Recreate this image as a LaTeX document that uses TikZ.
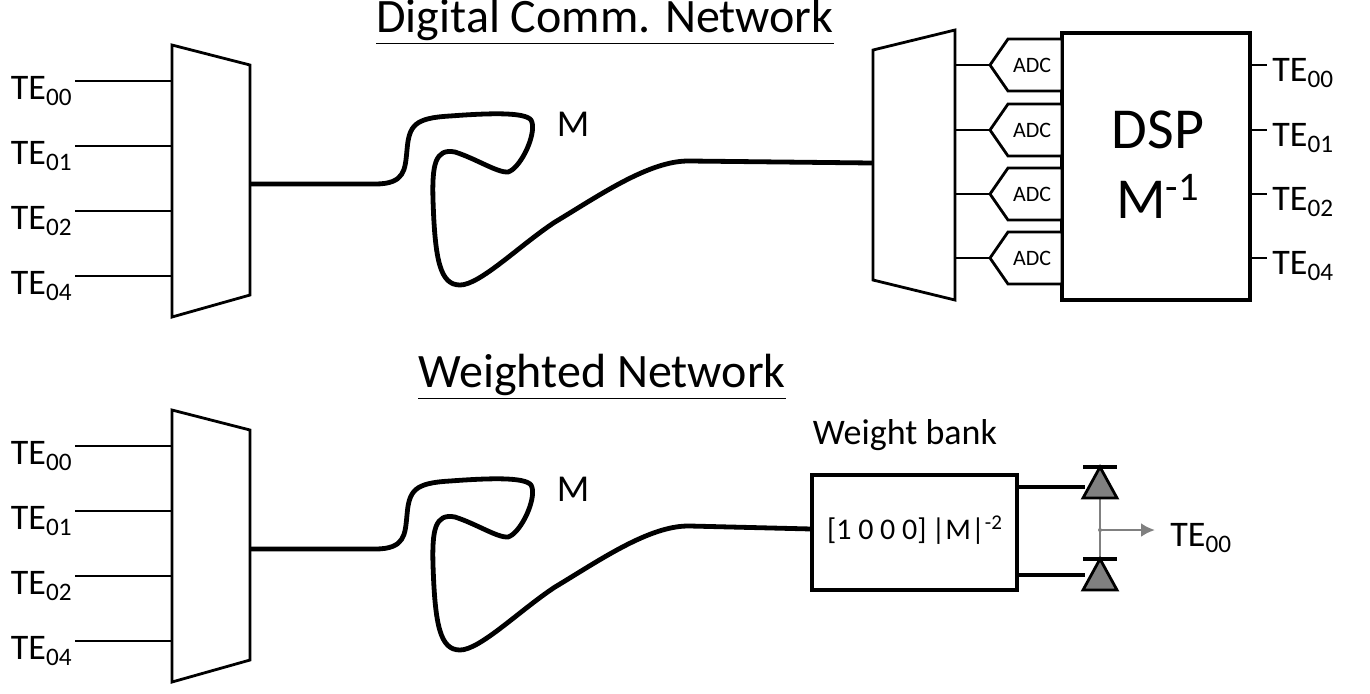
\documentclass[tikz,border=0pt]{standalone}
\usepackage{fontspec}
\setmainfont{Carlito}
\usetikzlibrary{arrows.meta}
\begin{document}
\begin{tikzpicture}[x=0.5pt,y=-0.5pt,
  thin/.style={line width=1.4pt},
  thk/.style={line width=2.4pt},
  lbl/.style={font=\fontsize{18}{20}\selectfont,anchor=east,inner sep=1pt},
  olbl/.style={font=\fontsize{18}{20}\selectfont,anchor=west,inner sep=1pt},
  adc/.style={thin,fill=white},
  title/.style={font=\fontsize{24}{26}\selectfont}]
\useasboundingbox (0,0) rectangle (1370,693);
% titles
\node[title] (t1) at (605,22) {\underline{Digital Comm. Network}};
\node[title] (t2) at (602,377) {\underline{Weighted Network}};
% two muxes + inputs + fibers
\foreach \dy/\s in {0/a,365/b}{
  \begin{scope}[yshift=-\dy*0.5pt]
  \draw[thin] (172,45) -- (250,65) -- (250,295) -- (172,317) -- cycle;
  \foreach \y/\t [count=\i] in {81/00,146/01,211/02,276/04}{
    \coordinate (in\s\i) at (75,\y);
    \coordinate (mx\s\i) at (172,\y);
    \draw[thin] (in\s\i) -- (mx\s\i);
    \node[lbl] (l\s\i) at (75,\y+10) {TE\textsubscript{\t}};
  }
  \coordinate (fs\s) at (250,184);
  \node[font=\fontsize{19}{21}\selectfont] (M\s) at (573,124) {M};
  \end{scope}
}
% top fiber
\draw[thk,line join=round] (fsa) -- (375,184) .. controls (405,184) and (405,170) .. (407,150)
  .. controls (409,125) and (415,118) .. (450,116) .. controls (490,113) and (525,112) .. (531,120)
  .. controls (537,130) and (525,160) .. (512,170) .. controls (505,178) and (480,160) .. (455,152)
  .. controls (435,148) and (432,165) .. (433,200) .. controls (435,260) and (440,285) .. (460,285)
  .. controls (480,285) and (520,245) .. (555,222) .. controls (600,195) and (650,160) .. (690,161)
  -- (873,163);
% bottom fiber
\draw[thk,line join=round] (fsb) -- (375,549) .. controls (405,549) and (405,535) .. (407,515)
  .. controls (409,490) and (415,483) .. (450,481) .. controls (490,478) and (525,477) .. (531,485)
  .. controls (537,495) and (525,525) .. (512,535) .. controls (505,543) and (480,525) .. (455,517)
  .. controls (435,513) and (432,530) .. (433,565) .. controls (435,625) and (440,650) .. (460,650)
  .. controls (480,650) and (520,610) .. (555,587) .. controls (600,560) and (650,525) .. (690,526)
  -- (812,529);
% right demux
\draw[thin] (873,50) -- (955,30) -- (955,300) -- (873,280) -- cycle;
% DSP
\draw[thk] (1062,33) rectangle (1250,300);
\node[font=\fontsize{29}{32}\selectfont] (dsp) at (1158,130) {DSP};
\node[font=\fontsize{29}{32}\selectfont] (minv) at (1158,196) {M\textsuperscript{-1}};
\foreach \y/\t [count=\i] in {65/00,130/01,194/02,258/04}{
  \draw[thin] (955,\y) -- (990,\y);
  \draw[adc] (990,\y) -- (1008,\y-26) -- (1062,\y-26) -- (1062,\y+26) -- (1008,\y+26) -- cycle;
  \node[font=\fontsize{11}{12}\selectfont] (adc\i) at (1032,\y) {ADC};
  \draw[thin] (1250,\y) -- (1267,\y);
  \node[olbl] (o\i) at (1270,\y+8) {TE\textsubscript{\t}};
}
% weight bank
\draw[line width=1.6pt] (812,475) rectangle (1017,590);
\node[font=\fontsize{15}{17}\selectfont] (wb) at (915,530) {[1 0 0 0]\,|M|\textsuperscript{-2}};
\node[font=\fontsize{18}{20}\selectfont] (wbl) at (905,435) {Weight bank};
\draw[thk] (1017,487) -- (1085,487);
\draw[thk] (1017,575) -- (1085,575);
\draw[gray,line width=1.4pt] (1100,498) -- (1100,560);
\draw[gray,line width=1.4pt,-{Latex[length=7pt,width=7pt]}] (1100,530) -- (1155,530);
\fill[gray] (1100,530) circle (2);
\foreach \yb/\yt in {498/467,590/559}{
  \draw[thin,fill=gray] (1083,\yb) -- (1117,\yb) -- (1100,\yt) -- cycle;
  \draw[line width=1.8pt] (1083,\yt) -- (1117,\yt);
}
\node[olbl] (wo) at (1168,538) {TE\textsubscript{00}};
\end{tikzpicture}
\end{document}
